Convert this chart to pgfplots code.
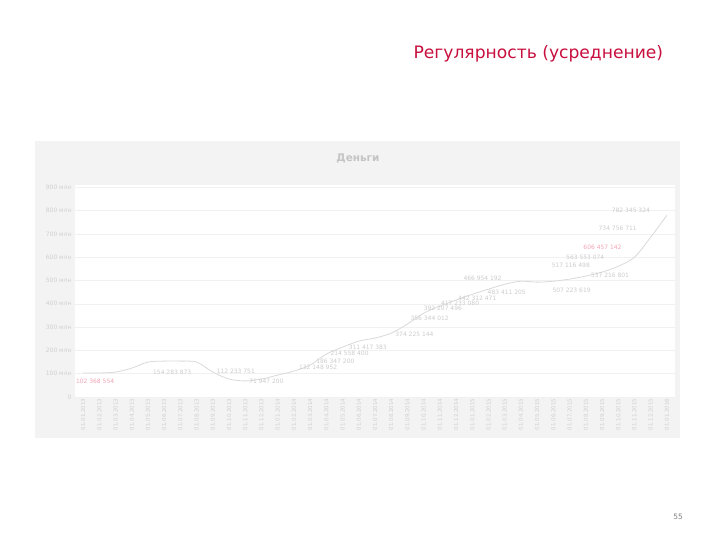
\documentclass[border=0pt]{standalone}
\usepackage{pgfplots}
\pgfplotsset{compat=1.18}
\usepackage{pgfplotstable}
\usepackage{fontspec}
\setmainfont{DejaVu Sans}

\definecolor{titlered}{RGB}{200,16,62}
\definecolor{chartbg}{RGB}{243,243,243}
\definecolor{titlegray}{RGB}{196,196,196}
\definecolor{ticklab}{RGB}{208,208,208}
\definecolor{linegray}{RGB}{218,218,218}
\definecolor{labgray}{RGB}{205,205,205}
\definecolor{labpink}{RGB}{242,165,180}
\definecolor{gridgray}{RGB}{241,241,241}

% Деньги, млн
\pgfplotstableread{
x y
0 103
1 103
2 107
3 124
4 150
5 154
6 154
7 150
8 107
9 77
10 69
11 77
12 94
13 111
14 137
15 184
16 214
17 240
18 253
19 274
20 313
21 360
22 390
23 416
24 441
25 463
26 484
27 497
28 493
29 497
30 506
31 519
32 536
33 561
34 600
35 686
36 780
}\linedata

% подписи (dx, dy -- сдвиг подписи в bp)
\pgfplotstableread{
x y lab dx dy
5 154 {154 283 873} 8 -11
8 107 {112 233 751} 23 1
11 77 {71 947 200} 5 -2
14 137 {132 148 952} 8 -2
15 184 {186 347 200} 9 -7
16 214 {214 558 400} 7 -6
17 240 {311 417 383} 9 -6
20 313 {374 225 144} 7 -10
21 360 {356 344 012} 6 -5
22 390 {392 207 496} 3 -2
23 416 {417 233 080} 4 -3
24 441 {442 312 471} 5 -4
25 463 {466 954 192} -6 11
26 484 {483 411 205} 2 -8
30 506 {507 223 619} 2 -11
31 519 {517 116 498} -15 11
32 536 {537 216 801} 8 -3
33 561 {563 553 074} -33 9
35 686 {734 756 711} -33 9
36 780 {782 345 324} -36 5
}\labdata

\pgfplotstableread{
x y lab dx dy
0 103 {102 368 554} 12 -8
34 600 {606 457 142} -32 10
}\labpink

\begin{document}
\begin{tikzpicture}[x=1bp,y=1bp]
\fill[white] (0,0) rectangle (720,540);
\fill[chartbg] (35,102) rectangle (680,399);
\node[font=\bfseries\fontsize{10.5}{12}\selectfont, text=titlegray] at (358,381) {Деньги};
\node[anchor=west, font=\fontsize{17.2}{20}\selectfont, text=titlered] at (410,486) {Регулярность (усреднение)};
\node[font=\fontsize{7.5}{9}\selectfont, text=gray] at (678,23) {55};

\begin{axis}[
  at={(75bp,143bp)}, anchor=south west,
  scale only axis,
  width=600bp, height=212bp,
  xmin=-0.5, xmax=36.5,
  ymin=0, ymax=910,
  axis background/.style={fill=white},
  axis line style={draw=none},
  major tick length=0pt,
  ymajorgrids,
  grid style={gridgray, line width=0.5bp},
  xtick={0,...,36},
  xticklabels={01.01.2013,01.02.2013,01.03.2013,01.04.2013,01.05.2013,01.06.2013,
    01.07.2013,01.08.2013,01.09.2013,01.10.2013,01.11.2013,01.12.2013,
    01.01.2014,01.02.2014,01.03.2014,01.04.2014,01.05.2014,01.06.2014,
    01.07.2014,01.08.2014,01.09.2014,01.10.2014,01.11.2014,01.12.2014,
    01.01.2015,01.02.2015,01.03.2015,01.04.2015,01.05.2015,01.06.2015,
    01.07.2015,01.08.2015,01.09.2015,01.10.2015,01.11.2015,01.12.2015,
    01.01.2016},
  x tick label style={rotate=90, anchor=east, font=\fontsize{5.5}{6}\selectfont, text=ticklab, inner sep=1.5pt},
  ytick={0,100,...,900},
  yticklabels={0,100 млн,200 млн,300 млн,400 млн,500 млн,600 млн,700 млн,800 млн,900 млн},
  y tick label style={font=\fontsize{6}{7}\selectfont, text=ticklab},
  /pgf/number format/assume math mode=true,
]
\addplot[smooth, linegray, line width=0.8bp, no markers] table[x=x, y=y] {\linedata};

\addplot[draw=none, no markers, nodes near coords, point meta=explicit symbolic,
  visualization depends on={\thisrow{dx} \as \lx},
  visualization depends on={\thisrow{dy} \as \ly},
  every node near coord/.append style={anchor=center, xshift=\lx bp, yshift=\ly bp,
    inner sep=0pt, font=\fontsize{6}{7}\selectfont, text=labgray}]
  table[x=x, y=y, meta=lab] {\labdata};

\addplot[draw=none, no markers, nodes near coords, point meta=explicit symbolic,
  visualization depends on={\thisrow{dx} \as \lx},
  visualization depends on={\thisrow{dy} \as \ly},
  every node near coord/.append style={anchor=center, xshift=\lx bp, yshift=\ly bp,
    inner sep=0pt, font=\fontsize{6}{7}\selectfont, text=labpink}]
  table[x=x, y=y, meta=lab] {\labpink};
\end{axis}
\end{tikzpicture}
\end{document}
